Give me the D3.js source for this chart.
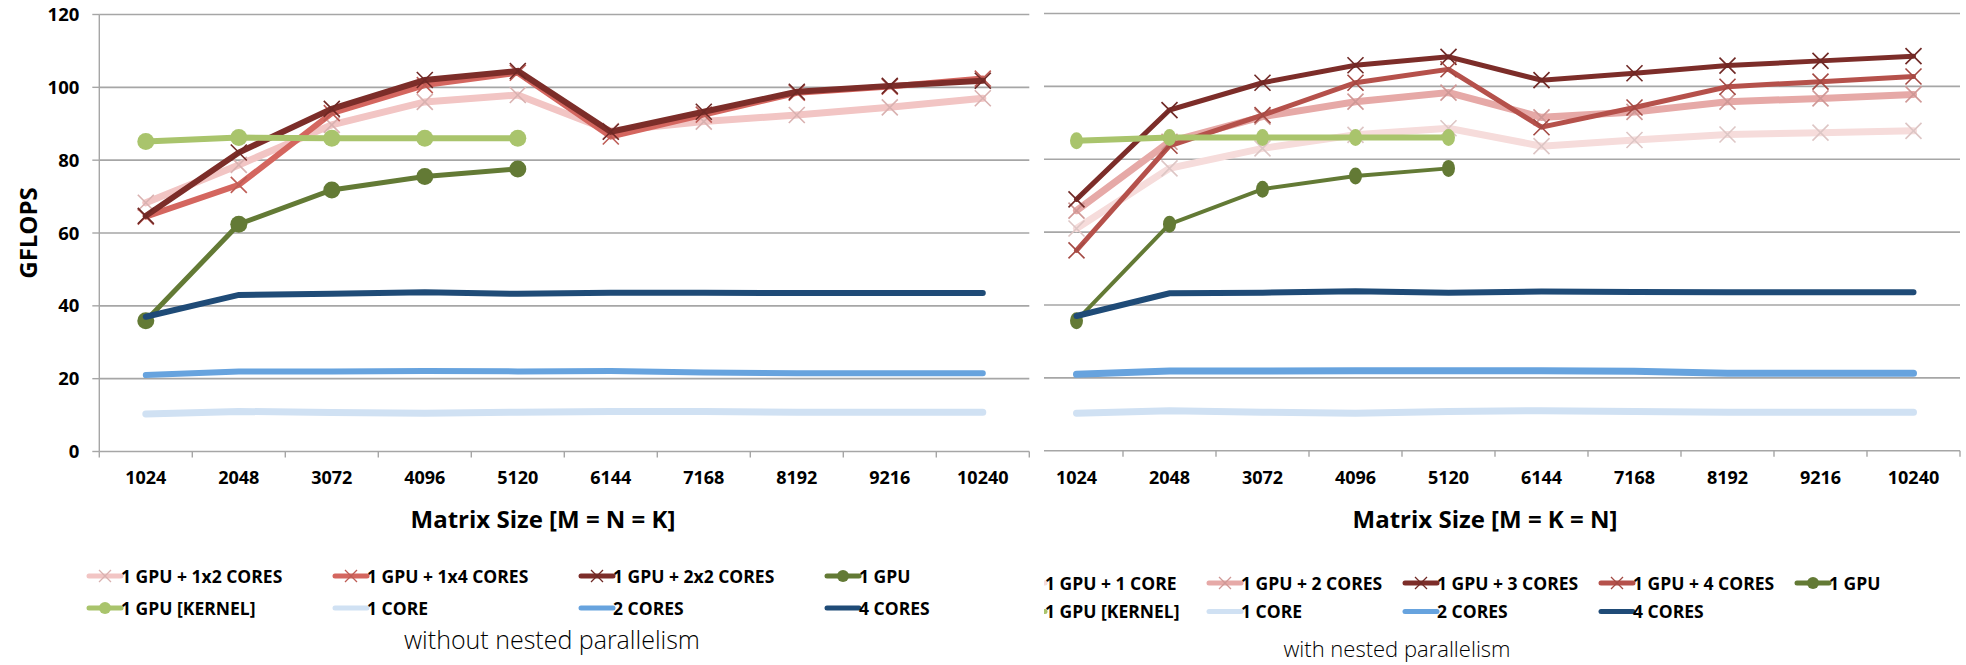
<!DOCTYPE html>
<html>
<head>
<meta charset="utf-8">
<script src="https://cdn.jsdelivr.net/npm/d3@7/dist/d3.min.js"></script>
<style>
  body { margin: 0; background: #fff; }
  text { font-family: "Open Sans", "DejaVu Sans", sans-serif; }
</style>
</head>
<body>
<svg width="1966" height="665"></svg>
<script>
var sizes = ["1024","2048","3072","4096","5120","6144","7168","8192","9216","10240"];
var yTicks = [0,20,40,60,80,100,120];

// without nested parallelism
var leftGpu1x2 = [68.3,78.7,89.7,96,97.9,88,90.6,92.4,94.5,97];
var leftGpu1x4 = [64.5,73.2,92.9,100.6,104,86.5,92.5,98.5,100.2,102.4];
var leftGpu2x2 = [64.7,82.1,94.1,102,104.5,87.8,93.3,98.8,100.4,101.8];
var leftGpu = [35.9,62.4,71.8,75.5,77.6];
var leftKernel = [85.1,86.2,86,86,86];
var leftCore1 = [10.3,11,10.7,10.5,10.8,11,11,10.8,10.8,10.8];
var leftCore2 = [21,22,22,22.1,22,22.1,21.7,21.5,21.5,21.5];
var leftCore4 = [37,43,43.3,43.7,43.3,43.6,43.6,43.5,43.5,43.5];

// with nested parallelism
var rightGpuC1 = [61,77.5,83,86.7,88.5,83.6,85.3,86.8,87.3,87.8];
var rightGpuC2 = [65.9,84.8,91.7,95.8,98.3,91.5,93,95.8,96.7,97.8];
var rightGpuC3 = [69,93.5,101,105.8,108.1,101.7,103.6,105.7,107,108.3];
var rightGpuC4 = [55,83.7,92.1,101,104.7,88.8,94.2,99.9,101.3,102.7];
var rightGpu = [35.7,62.2,71.8,75.4,77.5];
var rightKernel = [85.1,86,86,86,86];
var rightCore1 = [10.3,11,10.6,10.3,10.8,11,10.8,10.6,10.6,10.6];
var rightCore2 = [21,21.9,21.9,22,22,22,21.8,21.3,21.3,21.3];
var rightCore4 = [37,43.2,43.4,43.8,43.4,43.7,43.6,43.5,43.5,43.5];

var svg = d3.select("svg");
svg.append("rect").attr("width",1966).attr("height",665).attr("fill","#fff");

var defs = svg.append("defs");
defs.append("clipPath").attr("id","clipRight")
  .append("rect").attr("x",1044).attr("y",0).attr("width",922).attr("height",665);

var leftSeries = [
  {name:"1 GPU + 1x2 CORES", v:leftGpu1x2, color:"#f2c5c4", w:7, mark:"x"},
  {name:"1 GPU + 1x4 CORES", v:leftGpu1x4, color:"#d4665f", w:6, mark:"x"},
  {name:"1 GPU + 2x2 CORES", v:leftGpu2x2, color:"#7c2d29", w:6, mark:"x"},
  {name:"1 GPU", v:leftGpu, color:"#637a35", w:5, mark:"o"},
  {name:"1 GPU [KERNEL]", v:leftKernel, color:"#a9c46c", w:6, mark:"o"},
  {name:"1 CORE", v:leftCore1, color:"#d0e1f3", w:7, mark:""},
  {name:"2 CORES", v:leftCore2, color:"#67a3de", w:6, mark:""},
  {name:"4 CORES", v:leftCore4, color:"#1f4b77", w:6, mark:""}
];
var rightSeries = [
  {name:"1 GPU + 1 CORE", v:rightGpuC1, color:"#f6dcdb", w:7, mark:"x"},
  {name:"1 GPU + 2 CORES", v:rightGpuC2, color:"#e6a9a7", w:7, mark:"x"},
  {name:"1 GPU + 3 CORES", v:rightGpuC3, color:"#7c2d29", w:5, mark:"x"},
  {name:"1 GPU + 4 CORES", v:rightGpuC4, color:"#b5514b", w:5, mark:"x"},
  {name:"1 GPU", v:rightGpu, color:"#637a35", w:4, mark:"o"},
  {name:"1 GPU [KERNEL]", v:rightKernel, color:"#a9c46c", w:6, mark:"o"},
  {name:"1 CORE", v:rightCore1, color:"#d0e1f3", w:7, mark:""},
  {name:"2 CORES", v:rightCore2, color:"#67a3de", w:7, mark:""},
  {name:"4 CORES", v:rightCore4, color:"#1f4b77", w:6, mark:""}
];

function panel(g, o) {
  var x = d3.scaleBand().domain(sizes).range([o.x0, o.x0 + 930]);
  var y = d3.scaleLinear().domain([0,120]).range([o.yb, o.yt]);

  // gridlines
  g.selectAll(".grid").data(yTicks.slice(1)).enter().append("line")
    .attr("x1", o.x0).attr("x2", o.x0 + 930)
    .attr("y1", function(d){ return y(d); }).attr("y2", function(d){ return y(d); })
    .attr("stroke","#a6a6a6").attr("stroke-width",1.6);

  if (o.yAxis) {
    g.append("line").attr("x1",o.x0).attr("x2",o.x0).attr("y1",y(120)).attr("y2",y(0))
      .attr("stroke","#a6a6a6").attr("stroke-width",1.4);
    g.selectAll(".ytick").data(yTicks).enter().append("line")
      .attr("x1",o.x0-7).attr("x2",o.x0)
      .attr("y1",function(d){return y(d);}).attr("y2",function(d){return y(d);})
      .attr("stroke","#a6a6a6").attr("stroke-width",1.4);
    g.selectAll(".ylab").data(yTicks).enter().append("text")
      .attr("x",o.x0-20).attr("y",function(d){return y(d)+6.5;})
      .attr("text-anchor","end").attr("font-size",18.5).attr("font-weight",700)
      .text(function(d){return d;});
    g.append("text").attr("transform","translate(37," + ((y(0)+y(120))/2) + ") rotate(-90)")
      .attr("text-anchor","middle").attr("font-size",24).attr("font-weight",700)
      .text("GFLOPS");
  }

  // x axis
  g.append("line").attr("x1",o.x0).attr("x2",o.x0+930).attr("y1",y(0)).attr("y2",y(0))
    .attr("stroke","#a6a6a6").attr("stroke-width",1.6);
  var bounds = sizes.map(function(s){ return x(s); }).concat([x(sizes[sizes.length-1]) + x.bandwidth()]);
  g.selectAll(".xtick").data(bounds).enter().append("line")
    .attr("x1",function(d){return d;}).attr("x2",function(d){return d;})
    .attr("y1",y(0)).attr("y2",y(0)+6)
    .attr("stroke","#a6a6a6").attr("stroke-width",1.4);
  var ax = g.append("g").attr("transform","translate(0," + (y(0)+20) + ")")
    .call(d3.axisBottom(x).tickSize(0).tickPadding(0));
  ax.select(".domain").remove();
  ax.selectAll("text").attr("font-size",18).attr("font-weight",700).attr("fill","#000")
    .attr("font-family","Open Sans, sans-serif");

  g.append("text").attr("x",o.titleX).attr("y",528).attr("text-anchor","middle")
    .attr("font-size",24).attr("font-weight",700).text(o.title);

  var cx = function(i){ return x(sizes[i]) + x.bandwidth()/2; };
  var line = d3.line().x(function(d,i){ return cx(i); }).y(function(d){ return y(d); });

  o.series.forEach(function(s){
    var sg = g.append("g");
    sg.append("path").datum(s.v).attr("d",line).attr("fill","none")
      .attr("stroke",s.color).attr("stroke-width",s.w)
      .attr("stroke-linejoin","miter").attr("stroke-linecap","round");
    if (s.mark === "x") {
      sg.selectAll(".mk").data(s.v).enter().append("path")
        .attr("transform",function(d,i){ return "translate(" + cx(i) + "," + y(d) + ")"; })
        .attr("d","M-8,-8L8,8M-8,8L8,-8")
        .attr("stroke", d3.color(s.color).darker(0.3)).attr("stroke-width",1.6).attr("fill","none");
    } else if (s.mark === "o") {
      sg.selectAll(".mk").data(s.v).enter().append("ellipse")
        .attr("cx",function(d,i){ return cx(i); }).attr("cy",function(d){ return y(d); })
        .attr("rx",o.rx).attr("ry",8.5).attr("fill",s.color);
    }
  });

  // legend
  var lg = g.append("g");
  var item = lg.selectAll(".li").data(o.series).enter().append("g")
    .attr("transform",function(d,i){
      return "translate(" + (o.lx + (i % o.cols) * o.lstep) + "," + o.ly[Math.floor(i / o.cols)] + ")";
    });
  item.append("line").attr("x1",0).attr("x2",32).attr("y1",0).attr("y2",0)
    .attr("stroke",function(d){return d.color;}).attr("stroke-width",5).attr("stroke-linecap","round");
  item.filter(function(d){return d.mark==="x";}).append("path")
    .attr("d","M10,-6L22,6M10,6L22,-6").attr("stroke",function(d){return d3.color(d.color).darker(0.3);})
    .attr("stroke-width",1.3);
  item.filter(function(d){return d.mark==="o";}).append("circle")
    .attr("cx",16).attr("r",6).attr("fill",function(d){return d.color;});
  item.append("text").attr("x",32).attr("y",6.5).attr("font-size",17.5).attr("font-weight",700)
    .text(function(d){return d.name;});

  g.append("text").attr("x",o.subX).attr("y",o.subY).attr("text-anchor","middle")
    .attr("font-family","Roboto, sans-serif").attr("font-weight",300).attr("font-size",o.subSize)
    .text(o.sub);
}

panel(svg.append("g"), {x0:99.3, yb:451.5, yt:14.5, yAxis:true, series:leftSeries, rx:8.5,
  title:"Matrix Size [M = N = K]", titleX:543, lx:89, lstep:246, cols:4, ly:[576,608],
  sub:"without nested parallelism", subX:552, subY:649, subSize:25});

panel(svg.append("g").attr("clip-path","url(#clipRight)"), {x0:1030, yb:450.8, yt:13.5, yAxis:false,
  series:rightSeries, rx:6.5,
  title:"Matrix Size [M = K = N]", titleX:1485, lx:1013, lstep:196, cols:5, ly:[583,611.5],
  sub:"with nested parallelism", subX:1397, subY:657, subSize:22});
</script>
</body>
</html>
